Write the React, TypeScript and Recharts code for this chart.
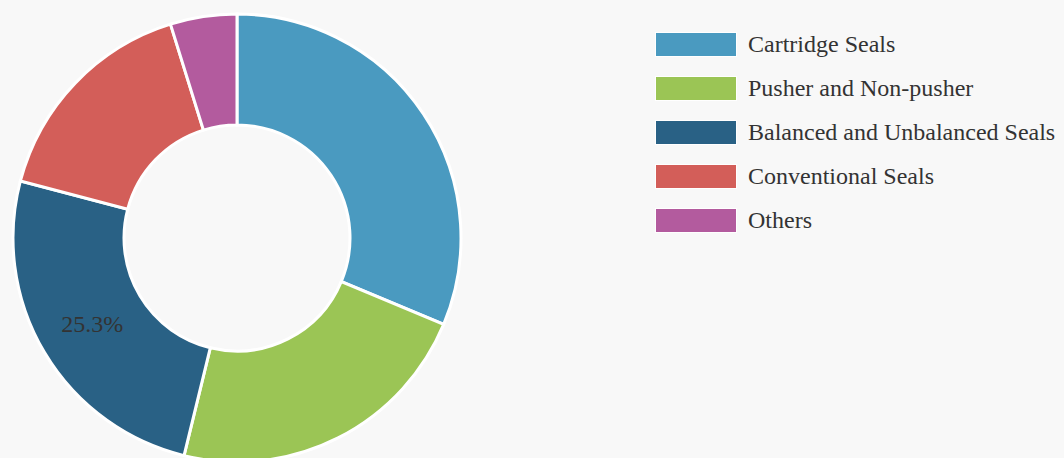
import React from "react";
import { PieChart, Pie, Cell } from "recharts";

const categories = [
  "Cartridge Seals",
  "Pusher and Non-pusher",
  "Balanced and Unbalanced Seals",
  "Conventional Seals",
  "Others",
];
const shares = [31.3, 22.5, 25.3, 16.1, 4.8];
const colors = ["#4a9ac0", "#9bc555", "#296185", "#d35e59", "#b35b9e"];
const labelled = ["Balanced and Unbalanced Seals"];

const data = categories.map((name, i) => ({ name, value: shares[i] }));

const FONT = "'Liberation Serif', serif";
const RADIAN = Math.PI / 180;

function renderLabel(props: any) {
  const { cx, cy, midAngle, innerRadius, outerRadius, name, value } = props;
  if (!labelled.includes(name)) return null;
  const r = (innerRadius + outerRadius) / 2;
  const x = cx + r * Math.cos(-midAngle * RADIAN);
  const y = cy + r * Math.sin(-midAngle * RADIAN);
  return (
    <text
      x={x}
      y={y}
      textAnchor="middle"
      dominantBaseline="central"
      fill="#333"
      style={{ fontSize: 24, fontFamily: FONT }}
    >
      {value.toFixed(1)}%
    </text>
  );
}

function LegendBox() {
  return (
    <div
      style={{
        position: "absolute",
        left: 655,
        top: 22,
        fontFamily: FONT,
      }}
    >
      {categories.map((c, i) => (
        <div
          key={c}
          style={{ display: "flex", alignItems: "center", height: 44 }}
        >
          <div
            style={{
              width: 80,
              height: 23,
              background: colors[i],
              border: "1px solid #fff",
              marginRight: 11,
            }}
          />
          <span style={{ fontSize: 24, color: "#333", lineHeight: "24px" }}>{c}</span>
        </div>
      ))}
    </div>
  );
}

export default function App() {
  return (
    <div
      style={{
        position: "absolute",
        left: 0,
        top: 0,
        width: 1064,
        height: 458,
        background: "#f8f8f8",
        overflow: "hidden",
      }}
    >
      <PieChart width={640} height={458} margin={{ top: 0, right: 0, bottom: 0, left: 0 }}>
        <Pie
          data={data}
          dataKey="value"
          nameKey="name"
          cx={237}
          cy={238}
          innerRadius={113}
          outerRadius={224}
          startAngle={90}
          endAngle={-270}
          stroke="#ffffff"
          strokeWidth={3}
          label={renderLabel}
          labelLine={false}
          isAnimationActive={false}
        >
          {data.map((d, i) => (
            <Cell key={d.name} fill={colors[i]} />
          ))}
        </Pie>
      </PieChart>
      <LegendBox />
    </div>
  );
}
